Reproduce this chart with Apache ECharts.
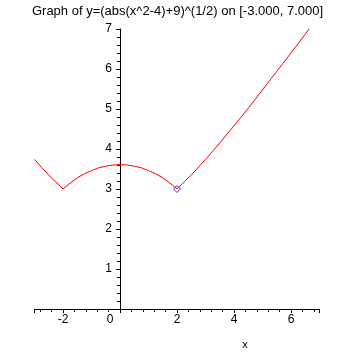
<!DOCTYPE html>
<html><head><meta charset="utf-8">
<script src="https://cdn.jsdelivr.net/npm/echarts@6/dist/echarts.min.js"></script>
<style>html,body{margin:0;padding:0;background:#fff}#c{width:355px;height:355px}</style>
</head><body><div id="c"></div>
<script>
const titleText = 'Graph of y=(abs(x^2-4)+9)^(1/2) on [-3.000, 7.000]';
const xValues = [-3, -2.75, -2.5, -2.25, -2, -1.75, -1.5, -1.25, -1, -0.75, -0.5, -0.25, 0,
  0.25, 0.5, 0.75, 1, 1.25, 1.5, 1.75, 2, 2.5, 3, 3.5, 4, 4.5, 5, 5.5, 6, 6.5, 6.63];
const yValues = [3.74, 3.54, 3.35, 3.17, 3.0, 3.15, 3.28, 3.38, 3.46, 3.53, 3.57, 3.60, 3.61,
  3.60, 3.57, 3.53, 3.46, 3.38, 3.28, 3.15, 3.0, 3.35, 3.74, 4.15, 4.58, 5.02, 5.48, 5.94, 6.40, 6.87, 7.0];
const markerPoint = [2, 3];
const xRange = [-3, 7];
const yRange = [0, 7];
const xAxisName = 'x';

const chart = echarts.init(document.getElementById('c'), null, {renderer: 'canvas'});
const font = 'Liberation Sans, Arial, sans-serif';
const gridLeft = 34.5, gridRight = 35.5;
const plotW = 355 - gridLeft - gridRight;
const yAxisOffset = -plotW * (0 - xRange[0]) / (xRange[1] - xRange[0]);
chart.setOption({
  animation: false,
  backgroundColor: '#fff',
  title: {text: titleText, left: 'center', top: 0,
    textStyle: {fontFamily: font, fontSize: 13, fontWeight: 'normal', color: '#000'}},
  grid: {left: gridLeft, right: gridRight, top: 29, bottom: 43, containLabel: false},
  xAxis: {
    type: 'value', min: xRange[0], max: xRange[1], splitNumber: 5,
    name: xAxisName, nameLocation: 'middle', nameGap: 30,
    nameTextStyle: {fontFamily: font, fontSize: 11, color: '#000', padding: [0, 0, 0, 136]},
    axisLine: {show: true, onZero: true, lineStyle: {color: '#000', width: 1}},
    axisTick: {show: true, inside: false, length: 4, lineStyle: {color: '#000'}},
    minorTick: {show: true, splitNumber: 5, length: 3, lineStyle: {color: '#000'}},
    splitLine: {show: false}, minorSplitLine: {show: false},
    axisLabel: {show: true, showMinLabel: false, showMaxLabel: false, margin: 5,
      fontFamily: font, fontSize: 12, color: '#000',
      formatter: v => v === 0 ? '{z|0}' : String(v),
      rich: {z: {fontFamily: font, fontSize: 12, color: '#000', padding: [0, 20, 0, 0]}}}
  },
  yAxis: {
    type: 'value', min: yRange[0], max: yRange[1], interval: 1, offset: yAxisOffset,
    axisLine: {show: true, onZero: false, lineStyle: {color: '#000', width: 1}},
    axisTick: {show: true, inside: false, length: 4, lineStyle: {color: '#000'}},
    minorTick: {show: true, splitNumber: 5, length: 3, lineStyle: {color: '#000'}},
    splitLine: {show: false}, minorSplitLine: {show: false},
    axisLabel: {show: true, showMinLabel: false, margin: 8,
      fontFamily: font, fontSize: 12, color: '#000'}
  },
  series: [
    {type: 'line', data: xValues.map((x, i) => [x, yValues[i]]), showSymbol: false,
      lineStyle: {color: '#ff0000', width: 1}, smooth: false, z: 2},
    {type: 'scatter', data: [markerPoint], symbol: 'diamond', symbolSize: 7,
      itemStyle: {color: 'rgba(0,0,0,0)', borderColor: '#0000ff', borderWidth: 1}, z: 3}
  ]
});
</script></body></html>
